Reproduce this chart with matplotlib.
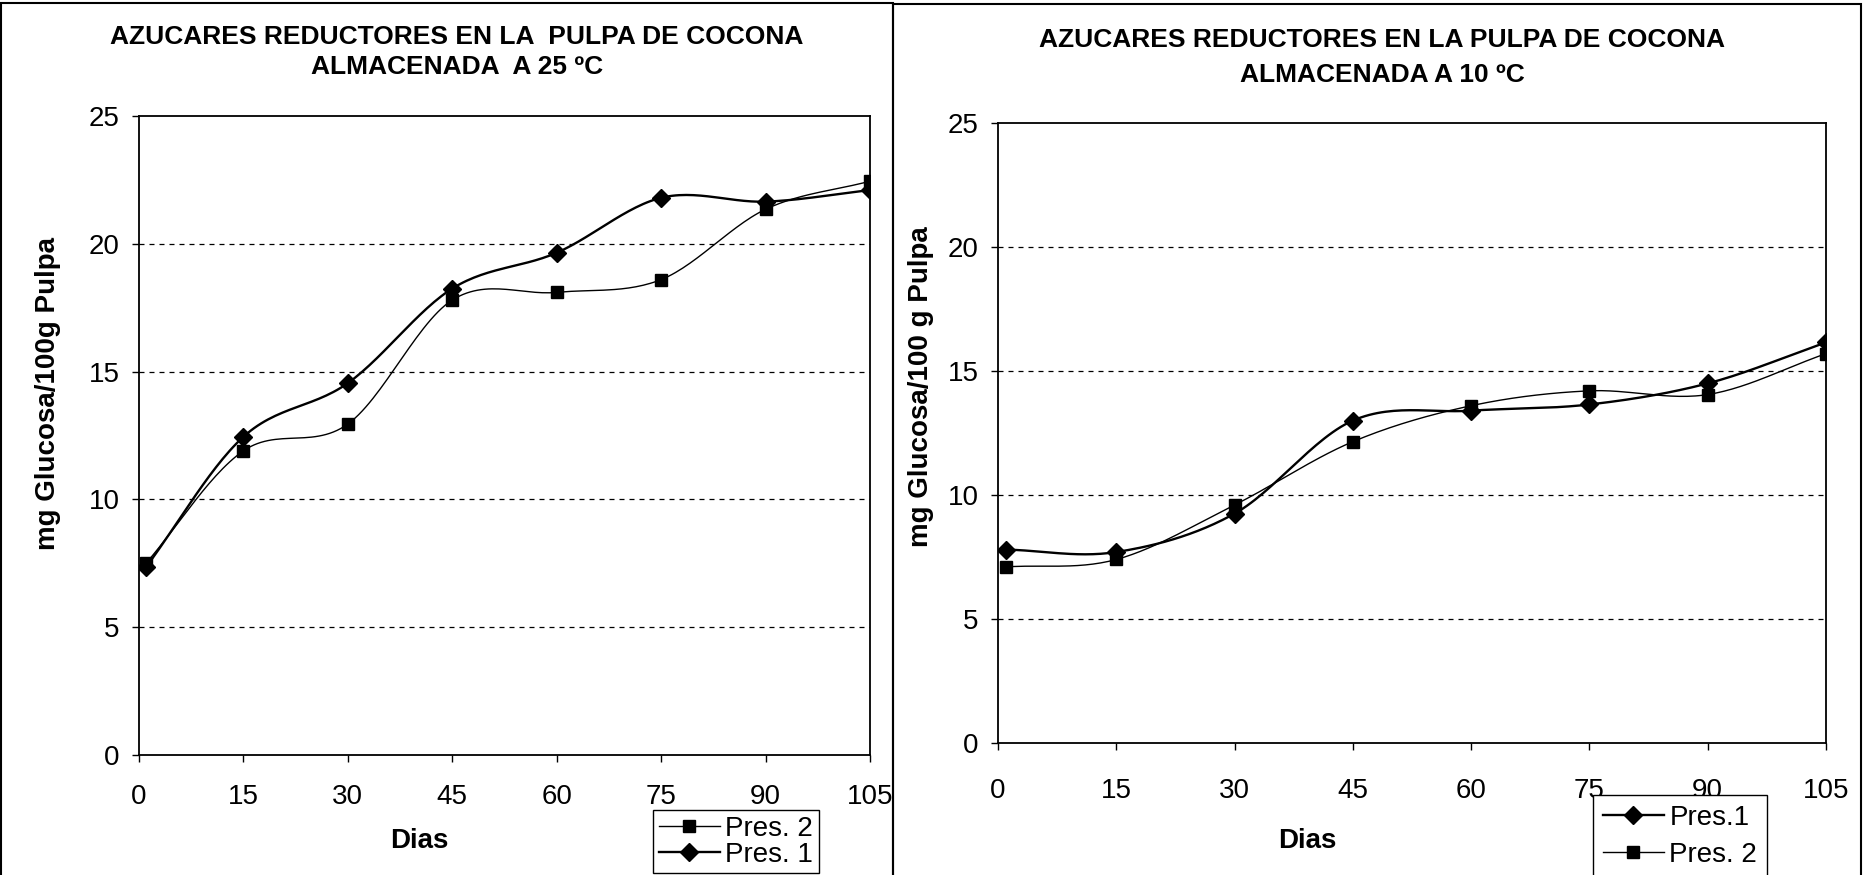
import numpy as np
import matplotlib
matplotlib.use("Agg")
import matplotlib.pyplot as plt
from matplotlib.patches import Rectangle
from matplotlib.lines import Line2D

# datos
dias = [1, 15, 30, 45, 60, 75, 90, 105]
ticks_x = [0, 15, 30, 45, 60, 75, 90, 105]
ticks_y = [0, 5, 10, 15, 20, 25]

# 25 C
p1_25 = [7.35, 12.45, 14.55, 18.25, 19.65, 21.8, 21.65, 22.1]
p2_25 = [7.5, 11.9, 12.95, 17.8, 18.1, 18.6, 21.35, 22.45]

# 10 C
p1_10 = [7.8, 7.7, 9.25, 13.0, 13.4, 13.65, 14.5, 16.15]
p2_10 = [7.1, 7.4, 9.6, 12.15, 13.6, 14.2, 14.05, 15.7]

plt.rcParams["font.family"] = ["Liberation Sans", "DejaVu Sans"]

W, H = 1868, 875


def suave(x, y, n=30):
    # curva suavizada tipo Catmull-Rom (como la linea suavizada de Excel)
    x = np.asarray(x, float)
    y = np.asarray(y, float)
    px = np.concatenate([[2 * x[0] - x[1]], x, [2 * x[-1] - x[-2]]])
    py = np.concatenate([[2 * y[0] - y[1]], y, [2 * y[-1] - y[-2]]])
    t = np.linspace(0, 1, n)
    xs, ys = [], []
    for i in range(1, len(px) - 2):
        for p, out in ((px, xs), (py, ys)):
            p0, p1, p2, p3 = p[i - 1], p[i], p[i + 1], p[i + 2]
            out.extend(0.5 * ((2 * p1) + (-p0 + p2) * t
                              + (2 * p0 - 5 * p1 + 4 * p2 - p3) * t ** 2
                              + (-p0 + 3 * p1 - 3 * p2 + p3) * t ** 3))
    return xs, ys


def texto(x, y, s, **kw):
    # posicion en pixeles desde arriba a la izquierda
    fig.text(x / W, 1 - y / H, s, ha="center", va="center", fontweight="bold", **kw)


def panel(ax, s1, s2, orden, padx):
    x1, y1 = suave(dias, s1)
    x2, y2 = suave(dias, s2)
    ax.plot(x2, y2, color="black", lw=1.0, zorder=3)
    ax.plot(x1, y1, color="black", lw=1.7, zorder=3)
    ax.plot(dias, s2, ls="none", marker="s", ms=9, color="black", zorder=4)
    ax.plot(dias, s1, ls="none", marker="D", ms=9, color="black", zorder=4)
    ax.set_xlim(0, 105)
    ax.set_ylim(0, 25)
    ax.set_xticks(ticks_x)
    ax.set_yticks(ticks_y)
    ax.tick_params(direction="out", length=5, labelsize=20, width=1)
    ax.tick_params(axis="x", pad=padx)
    ax.tick_params(axis="y", pad=9)
    for v in ticks_y[1:-1]:
        ax.axhline(v, color="black", ls=(0, (4, 4)), lw=0.9, zorder=1)
    for s in ax.spines.values():
        s.set_linewidth(1.3)
    h1 = Line2D([], [], color="black", lw=1.7, marker="D", ms=9)
    h2 = Line2D([], [], color="black", lw=1.0, marker="s", ms=9)
    if orden == 2:
        return [h2, h1], ["Pres. 2", "Pres. 1"]
    return [h1, h2], ["Pres.1", "Pres. 2"]


fig = plt.figure(figsize=(W / 100, H / 100), dpi=100)

# grafico 25 C
ax1 = fig.add_axes([139 / W, 1 - 755 / H, 731 / W, 639 / H])
hs, ls = panel(ax1, p1_25, p2_25, 2, 16)
texto(457, 37, "AZUCARES REDUCTORES EN LA  PULPA DE COCONA", fontsize=19)
texto(457, 67, "ALMACENADA  A 25 ºC", fontsize=19)
texto(48, 393, "mg Glucosa/100g Pulpa", fontsize=20, rotation=90)
texto(419, 841, "Dias", fontsize=20)
fig.legend(hs, ls, loc="upper left", bbox_to_anchor=(653 / W, 1 - 810 / H),
           fontsize=20, frameon=True, fancybox=False, edgecolor="black",
           framealpha=1, borderpad=0.2, handlelength=2.2, labelspacing=0.0,
           handletextpad=0.2, borderaxespad=0)

# grafico 10 C
ax2 = fig.add_axes([998 / W, 1 - 743 / H, 828 / W, 620 / H])
hs, ls = panel(ax2, p1_10, p2_10, 1, 20)
texto(1382, 40, "AZUCARES REDUCTORES EN LA PULPA DE COCONA", fontsize=19)
texto(1382, 75, "ALMACENADA A 10 ºC", fontsize=19)
texto(921, 387, "mg Glucosa/100 g Pulpa", fontsize=20, rotation=90)
texto(1307, 841, "Dias", fontsize=20)
fig.legend(hs, ls, loc="upper left", bbox_to_anchor=(1593 / W, 1 - 795 / H),
           fontsize=20, frameon=True, fancybox=False, edgecolor="black",
           framealpha=1, borderpad=0.35, handlelength=2.2, labelspacing=0.4,
           handletextpad=0.2, borderaxespad=0)

# marcos de cada grafico
fig.add_artist(Rectangle((1 / W, -0.05), 892 / W, 1.047, transform=fig.transFigure,
                         fill=False, lw=1.5, ec="black"))
fig.add_artist(Rectangle((893 / W, -0.05), 968 / W, 1.045, transform=fig.transFigure,
                         fill=False, lw=1.5, ec="black"))

fig.savefig("out.png", dpi=100, facecolor="white")
